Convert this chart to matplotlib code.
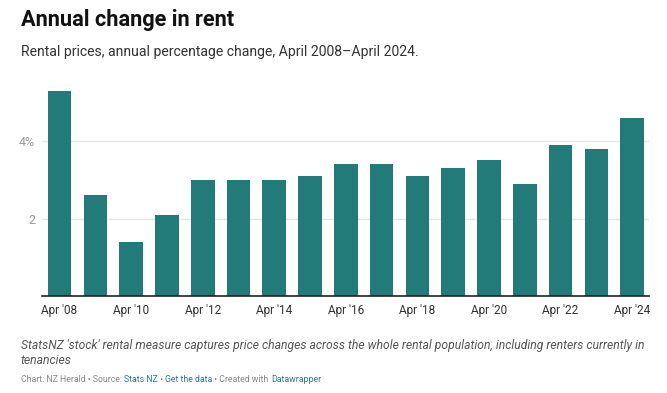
import matplotlib
matplotlib.use("Agg")
import matplotlib.pyplot as plt

plt.rcParams['font.family'] = ['Roboto', 'DejaVu Sans']

years = ["Apr '08", "Apr '09", "Apr '10", "Apr '11", "Apr '12", "Apr '13", "Apr '14",
         "Apr '15", "Apr '16", "Apr '17", "Apr '18", "Apr '19", "Apr '20", "Apr '21",
         "Apr '22", "Apr '23", "Apr '24"]
change = [5.3, 2.6, 1.4, 2.1, 3.0, 3.0, 3.0, 3.1, 3.4, 3.4, 3.1, 3.3, 3.5, 2.9,
          3.9, 3.8, 4.6]
ytick_vals = [2, 4]
ytick_labels = ["2", "4%"]

W, H = 667, 393
fig = plt.figure(figsize=(W / 100, H / 100), dpi=100)
ax = fig.add_axes([42 / W, 1 - 296 / H, 607 / W, (296 - 86.75) / H])

x = list(range(len(years)))
ax.bar(x, change, width=0.66, color='#237b79', zorder=2)
ax.set_xlim(-0.49, 16.47)
ax.set_ylim(0, 5.4)

ax.set_yticks(ytick_vals)
ax.set_yticklabels(ytick_labels)
ax.set_xticks(x[::2])
ax.set_xticklabels(years[::2])
ax.tick_params(axis='both', length=0, labelsize=8.5, colors='#333333')
ax.tick_params(axis='y', labelcolor='#999999', pad=5, labelsize=9)
ax.tick_params(axis='x', pad=6)
ax.grid(axis='y', color='#e5e5e5', linewidth=1, zorder=0)
for s in ['top', 'right', 'left']:
    ax.spines[s].set_visible(False)
ax.spines['bottom'].set_color('#222222')
ax.spines['bottom'].set_linewidth(1.2)
ax.spines['bottom'].set_zorder(3)

fig.text(21 / W, 1 - 20 / H, "Annual change in rent", fontsize=15.7, fontweight='bold',
         color='#111111', va='center')
fig.text(21 / W, 1 - 52 / H, "Rental prices, annual percentage change, April 2008\u2013April 2024.",
         fontsize=10.1, color='#333333', va='center')
fig.text(21 / W, 1 - 345 / H,
         "StatsNZ 'stock' rental measure captures price changes across the whole rental population, including renters currently in",
         fontsize=8.7, style='italic', color='#555555', va='center')
fig.text(21 / W, 1 - 360 / H, "tenancies", fontsize=8.7, style='italic', color='#555555', va='center')

# credit line with coloured link pieces
pieces = [("Chart: NZ Herald \u2022 Source: ", '#888888'), ("Stats NZ", '#1d81a2'),
          (" \u2022 ", '#888888'), ("Get the data", '#1d81a2'),
          (" \u2022 Created with ", '#888888'), ("Datawrapper", '#1d81a2')]
fig.canvas.draw()
r = fig.canvas.get_renderer()
xpos = 21
for txt, col in pieces:
    t = fig.text(xpos / W, 1 - 380 / H, txt, fontsize=6.3, color=col, va='center')
    bb = t.get_window_extent(renderer=r)
    xpos += bb.width

fig.savefig('out.png', dpi=100)
